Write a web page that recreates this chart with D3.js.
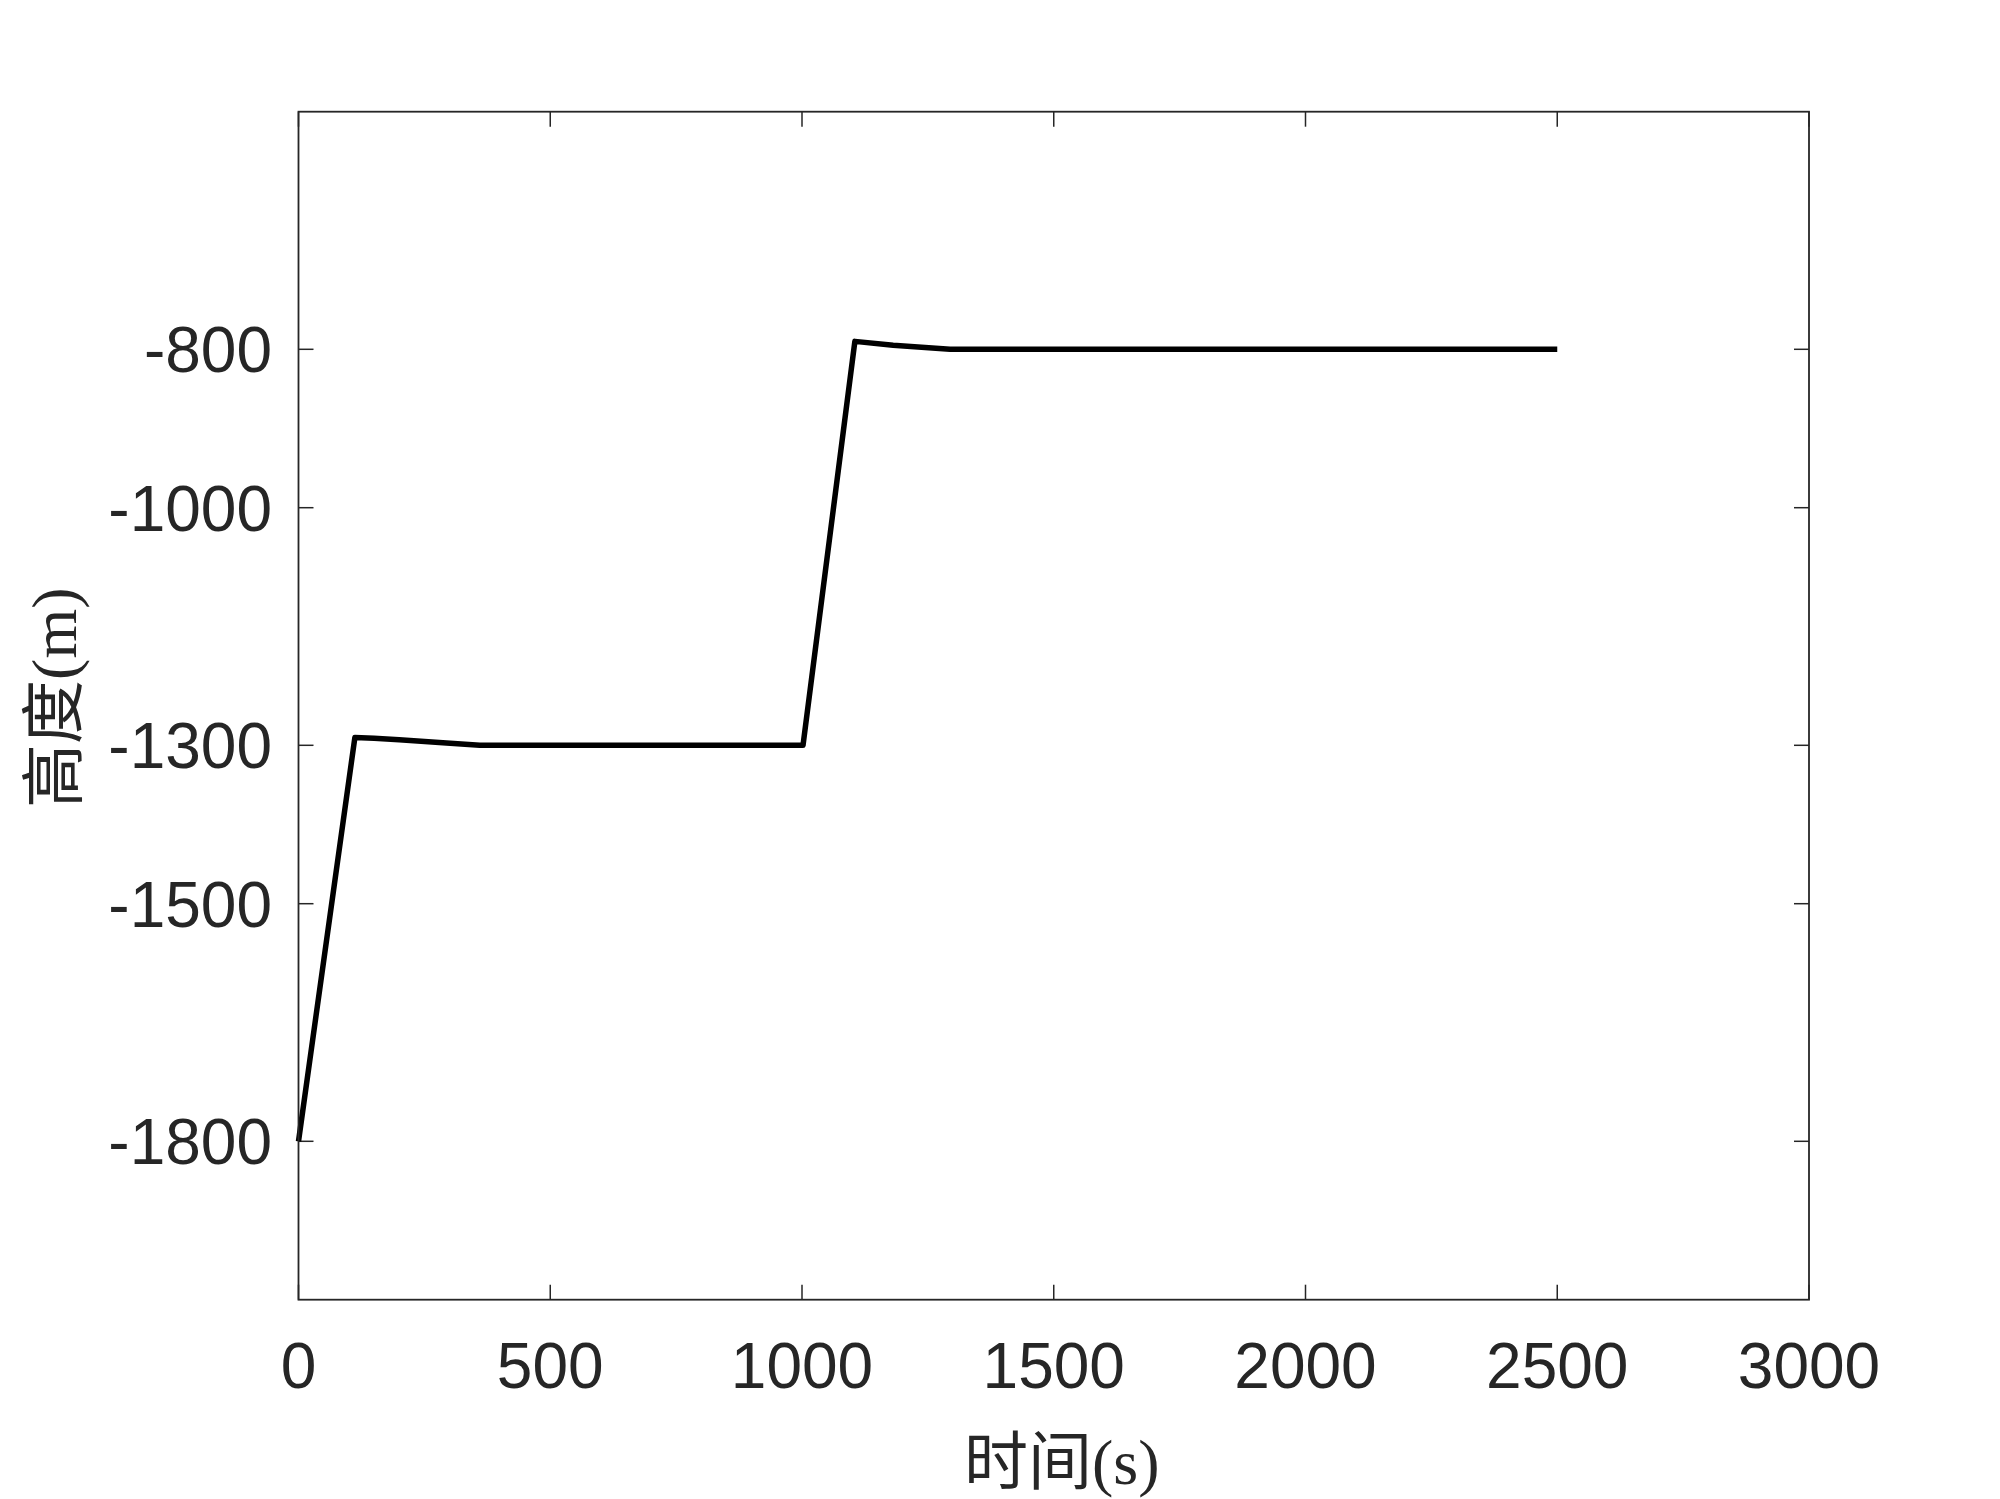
<!DOCTYPE html>
<html>
<head>
<meta charset="utf-8">
<script src="https://cdn.jsdelivr.net/npm/d3@7"></script>
<style>
  html, body { margin: 0; padding: 0; background: #fff; }
  svg { display: block; }
</style>
</head>
<body>
<div id="chart"></div>
<script>
// values
var timeS = [0, 112, 150, 200, 294, 360, 605, 620, 900, 1002, 1105, 1181, 1294, 1456, 1711, 1969, 2500];
var heightM = [-1800, -1290, -1291, -1293, -1297, -1300, -1300, -1300, -1300, -1300, -790, -795, -800, -800, -800, -800, -800];

var xTicks = [0, 500, 1000, 1500, 2000, 2500, 3000];
var yTicks = [-1800, -1500, -1300, -1000, -800];
var xDomain = [0, 3000];
var yDomain = [-2000, -500];
var xTitle = "时间(s)";
var yTitle = "高度(m)";

var W = 2000, H = 1499;
var axL = 298.5, axR = 1809, axT = 111.7, axB = 1299.7;
var axisColor = "#262626";
var tickLen = 15;

var svg = d3.select("#chart").append("svg")
    .attr("width", W)
    .attr("height", H);

var x = d3.scaleLinear().domain(xDomain).range([axL, axR]);
var y = d3.scaleLinear().domain(yDomain).range([axB, axT]);

// tick marks, inside, all four sides
var g = svg.append("g").attr("stroke", axisColor).attr("stroke-width", 1.5);
xTicks.forEach(t => {
    g.append("line").attr("x1", x(t)).attr("x2", x(t)).attr("y1", axB).attr("y2", axB - tickLen);
    g.append("line").attr("x1", x(t)).attr("x2", x(t)).attr("y1", axT).attr("y2", axT + tickLen);
});
yTicks.forEach(t => {
    g.append("line").attr("x1", axL).attr("x2", axL + tickLen).attr("y1", y(t)).attr("y2", y(t));
    g.append("line").attr("x1", axR).attr("x2", axR - tickLen).attr("y1", y(t)).attr("y2", y(t));
});

// data line
var line = d3.line().x((d, i) => x(timeS[i])).y(d => y(d));
svg.append("path")
    .datum(heightM)
    .attr("d", line)
    .attr("fill", "none")
    .attr("stroke", "#000")
    .attr("stroke-width", 5.5)
    .attr("stroke-linejoin", "round");

// box
svg.append("rect")
    .attr("x", axL).attr("y", axT)
    .attr("width", axR - axL).attr("height", axB - axT)
    .attr("fill", "none")
    .attr("stroke", axisColor)
    .attr("stroke-width", 1.8);

// tick labels
var labelFont = "'Liberation Sans', Arial, sans-serif";
svg.append("g").selectAll("text").data(xTicks).join("text")
    .attr("x", d => x(d))
    .attr("y", 1388)
    .attr("text-anchor", "middle")
    .attr("font-family", labelFont)
    .attr("font-size", 64)
    .attr("fill", axisColor)
    .text(d => d);

svg.append("g").selectAll("text").data(yTicks).join("text")
    .attr("x", 272)
    .attr("y", d => y(d) + 23)
    .attr("text-anchor", "end")
    .attr("font-family", labelFont)
    .attr("font-size", 64)
    .attr("fill", axisColor)
    .text(d => d);

// axis titles
var titleFont = "'Liberation Serif', 'Noto Sans CJK SC', serif";
svg.append("text")
    .attr("x", (axL + axR) / 2 + 8)
    .attr("y", 1484)
    .attr("text-anchor", "middle")
    .attr("font-family", titleFont)
    .attr("font-size", 64)
    .attr("fill", axisColor)
    .text(xTitle);

svg.append("text")
    .attr("transform", "translate(76," + ((axT + axB) / 2 - 8) + ") rotate(-90)")
    .attr("text-anchor", "middle")
    .attr("font-family", titleFont)
    .attr("font-size", 64)
    .attr("fill", axisColor)
    .text(yTitle);
</script>
</body>
</html>
